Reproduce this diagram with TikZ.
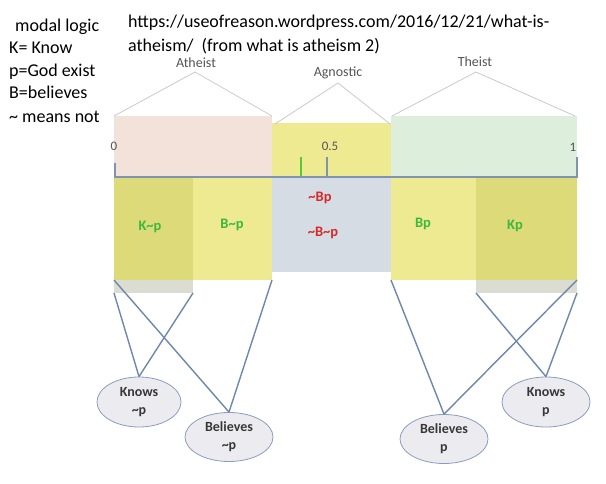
\documentclass[tikz,border=0pt]{standalone}
\usepackage{fontspec}
\setmainfont{Carlito}
\usetikzlibrary{shapes.geometric}
\definecolor{pinkc}{HTML}{F2E2DA}
\definecolor{yelc}{HTML}{EEEA92}
\definecolor{greenc}{HTML}{DDEEDD}
\definecolor{olivec}{HTML}{DDDA7A}
\definecolor{bluec}{HTML}{D6DCE4}
\definecolor{extc}{HTML}{DCDDD2}
\definecolor{axisc}{HTML}{7F94B0}
\definecolor{trianc}{HTML}{C6C9CE}
\definecolor{linkc}{HTML}{6E87AB}
\definecolor{ellfill}{HTML}{ECECF0}
\definecolor{elldraw}{HTML}{8A9CC0}
\definecolor{lblgreen}{HTML}{3DB83D}
\definecolor{lblred}{HTML}{D42A2A}
\definecolor{tickgreen}{HTML}{5CC83C}
\definecolor{txtgray}{HTML}{555555}
\begin{document}
\begin{tikzpicture}[x=1pt,y=-1pt,
  band/.style={rectangle, inner sep=0pt, outer sep=0pt, draw=none},
  legend/.style={anchor=base west, inner sep=0pt, font=\fontsize{18}{22}\selectfont, text=black},
  camp/.style={inner sep=0pt, font=\fontsize{14}{16}\selectfont, text=txtgray},
  num/.style={inner sep=0pt, font=\fontsize{13}{15}\selectfont, text=txtgray},
  glbl/.style={inner sep=0pt, font=\bfseries\fontsize{14.5}{16}\selectfont, text=lblgreen},
  rlbl/.style={inner sep=0pt, font=\bfseries\fontsize{14.5}{16}\selectfont, text=lblred},
  tri/.style={draw=trianc, line width=0.8pt},
  axis/.style={draw=axisc, line width=2pt},
  link/.style={draw=linkc, line width=1.4pt},
  bubble/.style={ellipse, draw=elldraw, fill=ellfill, line width=0.8pt, inner sep=0pt,
    align=center, font=\bfseries\fontsize{14}{18}\selectfont, text=black!78}
]
\useasboundingbox (0,0) rectangle (606,484);

% legend text
\node[legend] (l1) at (15,31.5) {modal logic};
\node[legend] (l2) at (9,54) {K= Know};
\node[legend] (l3) at (9,76.5) {p=God exist};
\node[legend] (l4) at (9,99) {B=believes};
\node[legend] (l5) at (9,122.5) {\textasciitilde{} means not};
\node[legend] (u1) at (128,28) {https://useofreason.wordpress.com/2016/12/21/what-is-};
\node[legend] (u2) at (128,52) {atheism/\ \ (from what is atheism 2)};

% upper band
\node[band, fill=pinkc, minimum width=158pt, minimum height=61pt] (ath) at (193,146.5) {};
\node[band, fill=yelc, minimum width=119pt, minimum height=54pt] (agn) at (331.5,150) {};
\node[band, fill=greenc, minimum width=186pt, minimum height=61pt] (the) at (484,146.5) {};

% triangles and camp labels
\coordinate (pA) at (195,72);
\coordinate (pG) at (338,83);
\coordinate (pT) at (476,72);
\draw[tri] (ath.north west) -- (pA) -- (ath.north east);
\draw[tri] ([xshift=3pt,yshift=-1pt]agn.north west) -- (pG) -- ([xshift=-1pt,yshift=-1pt]agn.north east);
\draw[tri] ([xshift=1pt]the.north west) -- (pT) -- ([xshift=-2pt]the.north east);
\node[camp] (tA) at (196,63) {Atheist};
\node[camp] (tG) at (338,73) {Agnostic};
\node[camp] (tT) at (475,62) {Theist};

% lower band
\node[band, fill=olivec, minimum width=79pt, minimum height=103pt] (knp) at (153.5,228.5) {};
\node[band, fill=extc, minimum width=79pt, minimum height=13pt] (knpx) at (153.5,286.5) {};
\node[band, fill=yelc, minimum width=79pt, minimum height=103pt] (bnp) at (232.5,228.5) {};
\node[band, fill=bluec, minimum width=119pt, minimum height=95pt] (agb) at (331.5,224.5) {};
\node[band, fill=yelc, minimum width=85pt, minimum height=103pt] (bp) at (433.5,228.5) {};
\node[band, fill=olivec, minimum width=101pt, minimum height=103pt] (kp) at (526.5,228.5) {};
\node[band, fill=extc, minimum width=101pt, minimum height=13pt] (kpx) at (526.5,286.5) {};

% axis
\draw[axis] (115,163) -- (115,177) -- (577,177) -- (577,157);
\draw[axis] (327,157) -- (327,177);
\draw[draw=tickgreen, line width=2pt] (301,157) -- (301,176);
\node[num] (n0) at (114,146) {0};
\node[num] (n5) at (330,146) {0.5};
\node[num] (n1) at (573,147) {1};

% band labels
\node[glbl] (t1) at (150,227) {K\textasciitilde p};
\node[glbl] (t2) at (232,225) {B\textasciitilde p};
\node[rlbl] (t3) at (320,198) {\textasciitilde Bp};
\node[rlbl] (t4) at (323,233) {\textasciitilde B\textasciitilde p};
\node[glbl] (t5) at (423,224) {Bp};
\node[glbl] (t6) at (515,226) {Kp};

% bubbles
\node[bubble, minimum width=84pt, minimum height=50pt] (knows0) at (139,402) {Knows\\\textasciitilde p};
\node[bubble, minimum width=88pt, minimum height=49pt] (bel0) at (229,437) {Believes\\\textasciitilde p};
\node[bubble, minimum width=88pt, minimum height=49pt] (bel1) at (444,439) {Believes\\p};
\node[bubble, minimum width=88pt, minimum height=50pt] (knows1) at (546,402) {Knows\\p};

% connectors
\draw[link] (knpx.south west) -- (knows0.north);
\draw[link] (knpx.south east) -- (knows0.north);
\draw[link] (knp.south west) -- (bel0.north);
\draw[link] (bnp.south east) -- (bel0.north);
\draw[link] (bp.south west) -- (bel1.north);
\draw[link] (kp.south east) -- (bel1.north);
\draw[link] (kpx.south west) -- (knows1.north);
\draw[link] (kpx.south east) -- (knows1.north);
\end{tikzpicture}
\end{document}
